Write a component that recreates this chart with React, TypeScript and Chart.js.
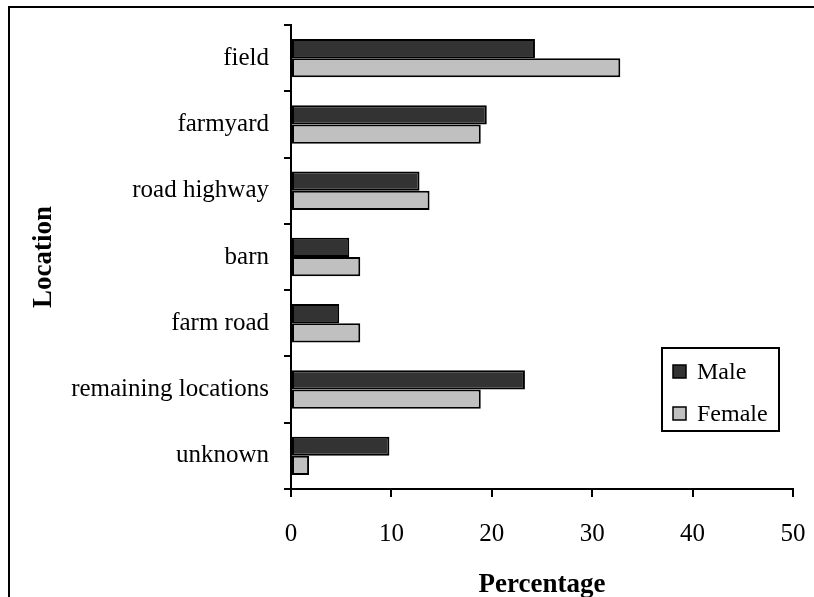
import React, { useEffect, useRef } from "react";
import { Chart, registerables } from "chart.js";

Chart.register(...registerables);

const categories = ["field", "farmyard", "road highway", "barn", "farm road", "remaining locations", "unknown"];
const maleValues = [24.3, 19.5, 12.8, 5.8, 4.8, 23.3, 9.8];
const femaleValues = [32.8, 18.9, 13.8, 6.9, 6.9, 18.9, 1.8];
const seriesNames = ["Male", "Female"];
const xTicks = [0, 10, 20, 30, 40, 50];

const FONT = '"Liberation Serif", "Times New Roman", Times, serif';

const legendPlugin = {
  id: "boxLegend",
  afterDraw(chart: any) {
    const ctx = chart.ctx;
    const x0 = 652, y0 = 340, w = 117, h = 83;
    ctx.save();
    ctx.fillStyle = "#ffffff";
    ctx.fillRect(x0, y0, w, h);
    ctx.strokeStyle = "#000000";
    ctx.lineWidth = 2;
    ctx.strokeRect(x0, y0, w, h);
    ctx.font = `24px ${FONT}`;
    ctx.textBaseline = "middle";
    ctx.textAlign = "left";
    chart.data.datasets.forEach((ds: any, i: number) => {
      const cy = y0 + 24 + i * 42;
      ctx.fillStyle = ds.backgroundColor;
      ctx.fillRect(x0 + 11, cy - 7, 13, 13);
      ctx.lineWidth = 1.5;
      ctx.strokeStyle = "#000000";
      ctx.strokeRect(x0 + 11, cy - 7, 13, 13);
      ctx.fillStyle = "#000000";
      ctx.fillText(ds.label, x0 + 35, cy + 1);
    });
    ctx.restore();
  },
};

export default function App() {
  const canvasRef = useRef<HTMLCanvasElement | null>(null);

  useEffect(() => {
    document.body.style.margin = "0";
    document.body.style.overflow = "hidden";
    let chart: Chart | null = null;
    let cancelled = false;

    const build = () => {
      const canvas = canvasRef.current;
      if (!canvas || cancelled) return;
      chart = new Chart(canvas, {
        type: "bar",
        data: {
          labels: categories,
          datasets: [
            {
              label: seriesNames[0],
              data: maleValues,
              backgroundColor: "#333333",
              borderColor: "#000000",
              borderWidth: 2,
              borderSkipped: false,
              categoryPercentage: 0.58,
              barPercentage: 1,
            },
            {
              label: seriesNames[1],
              data: femaleValues,
              backgroundColor: "#c0c0c0",
              borderColor: "#000000",
              borderWidth: 2,
              borderSkipped: false,
              categoryPercentage: 0.58,
              barPercentage: 1,
            },
          ],
        },
        options: {
          indexAxis: "y",
          animation: false,
          responsive: true,
          maintainAspectRatio: false,
          layout: { padding: { top: 17, right: 21, left: 0, bottom: 0 } },
          plugins: {
            legend: { display: false },
            tooltip: { enabled: false },
          },
          scales: {
            x: {
              type: "linear",
              min: xTicks[0],
              max: xTicks[xTicks.length - 1],
              afterBuildTicks(scale: any) {
                scale.ticks = xTicks.map((v) => ({ value: v }));
              },
              afterFit(scale: any) {
                scale.height = 108;
                scale.paddingLeft = 0;
                scale.paddingRight = 0;
              },
              border: { display: true, color: "#000000", width: 2 },
              grid: {
                drawOnChartArea: false,
                drawTicks: true,
                tickLength: 8,
                color: "#000000",
                lineWidth: 2,
              },
              ticks: {
                color: "#000000",
                font: { family: FONT, size: 25 },
                padding: 22,
                maxRotation: 0,
              },
              title: {
                display: true,
                text: "Percentage",
                color: "#000000",
                font: { family: FONT, size: 27, weight: "bold", lineHeight: 1.2 },
                padding: { top: 0, bottom: -4 },
              },
            },
            y: {
              type: "category",
              afterFit(scale: any) {
                scale.width = 281;
                scale.paddingTop = 0;
                scale.paddingBottom = 0;
              },
              border: { display: true, color: "#000000", width: 2 },
              grid: {
                offset: true,
                drawOnChartArea: false,
                drawTicks: true,
                tickLength: 7,
                color: "#000000",
                lineWidth: 2,
              },
              ticks: {
                color: "#000000",
                font: { family: FONT, size: 25 },
                padding: 15,
                autoSkip: false,
              },
              title: {
                display: true,
                text: "Location",
                color: "#000000",
                font: { family: FONT, size: 27, weight: "bold", lineHeight: 1.2 },
                padding: { top: 18, bottom: 0 },
              },
            },
          },
        },
        plugins: [legendPlugin],
      });
    };

    const fontsApi: any = (document as any).fonts;
    if (fontsApi && fontsApi.load) {
      Promise.all([
        fontsApi.load('25px "Liberation Serif"'),
        fontsApi.load('bold 27px "Liberation Serif"'),
      ])
        .catch(() => undefined)
        .then(build);
    } else {
      build();
    }

    return () => {
      cancelled = true;
      if (chart) chart.destroy();
    };
  }, []);

  return (
    <div
      style={{
        position: "fixed",
        left: 8,
        top: 6,
        width: 806,
        height: 591,
        borderLeft: "2px solid #000",
        borderTop: "2px solid #000",
        boxSizing: "border-box",
        background: "#fff",
      }}
    >
      <div style={{ position: "relative", width: "100%", height: "100%" }}>
        <canvas ref={canvasRef} />
      </div>
    </div>
  );
}
